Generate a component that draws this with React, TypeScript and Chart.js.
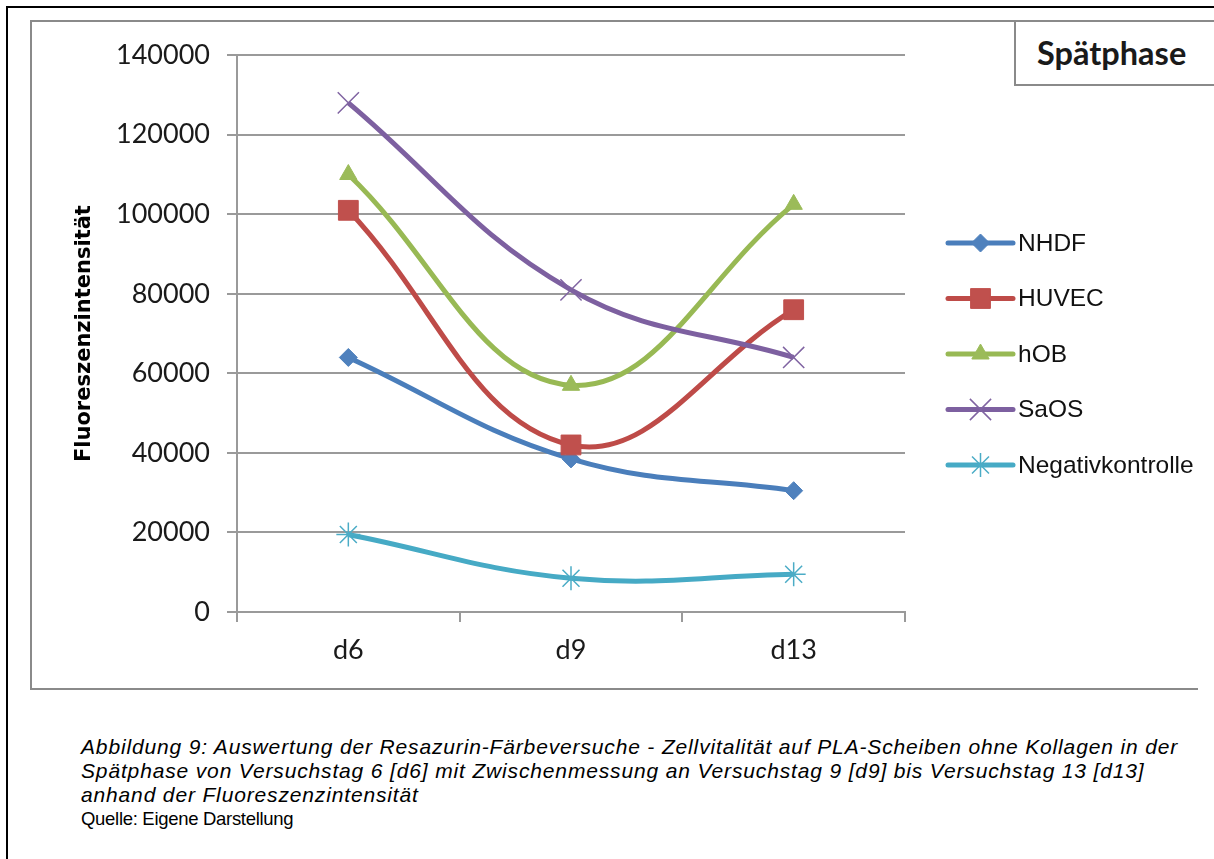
import { useEffect, useRef } from "react";
import { Chart, registerables } from "chart.js";
import { drawPoint } from "chart.js/helpers";

Chart.register(...registerables);

// Measurement days
const days = ["d6", "d9", "d13"];

// Fluorescence intensity per cell line
const nhdf = [64000, 38500, 30500];
const huvec = [101000, 42000, 76000];
const hob = [110000, 57000, 102500];
const saos = [128000, 81000, 64000];
const negativkontrolle = [19500, 8500, 9500];

const seriesNames = ["NHDF", "HUVEC", "hOB", "SaOS", "Negativkontrolle"];
const seriesValues = [nhdf, huvec, hob, saos, negativkontrolle];
const lineColors = ["#4a7ebb", "#be4b48", "#98b954", "#7d60a0", "#46aac5"];
const markerColors = ["#4f81bd", "#c0504d", "#9bbb59", "#8064a2", "#4bacc6"];
const markerStyles = ["rectRot", "rect", "triangle", "crossRot", "star"];
const markerRadii = [9, 14, 10, 15, 12];
const markerBorders = [1, 1, 1, 1.5, 1.5];

// Y axis range
const yMin = 0;
const yMax = 140000;
const yStep = 20000;

const chartTitle = "Spätphase";
const yTitle = "Fluoreszenzintensität";
const captionLines = [
  "Abbildung 9: Auswertung der Resazurin-Färbeversuche - Zellvitalität auf PLA-Scheiben ohne Kollagen in der",
  "Spätphase von Versuchstag 6 [d6] mit Zwischenmessung an Versuchstag 9 [d9] bis Versuchstag 13 [d13]",
  "anhand der Fluoreszenzintensität",
];
const sourceLine = "Quelle: Eigene Darstellung";

const GRID = "#9a9a9a";
const CANVAS_W = 1166;
const CANVAS_H = 666;

// Legend drawn on the right: a short line with the series marker, then the name
const lineLegend = {
  id: "lineLegend",
  afterDraw(chart: any) {
    const ctx = chart.ctx as CanvasRenderingContext2D;
    const x0 = 916;
    const x1 = 981;
    const y0 = 221;
    const gap = 55.5;
    chart.data.datasets.forEach((ds: any, i: number) => {
      const y = y0 + i * gap;
      ctx.save();
      ctx.strokeStyle = ds.borderColor;
      ctx.lineWidth = 5;
      ctx.lineCap = "round";
      ctx.beginPath();
      ctx.moveTo(x0, y);
      ctx.lineTo(x1, y);
      ctx.stroke();
      ctx.restore();
      ctx.save();
      ctx.fillStyle = ds.pointBackgroundColor;
      ctx.strokeStyle = ds.pointBorderColor;
      ctx.lineWidth = ds.pointBorderWidth;
      drawPoint(
        ctx,
        { pointStyle: ds.pointStyle, radius: ds.pointRadius, rotation: 0, borderWidth: ds.pointBorderWidth } as any,
        (x0 + x1) / 2,
        y
      );
      ctx.restore();
      ctx.save();
      ctx.fillStyle = "#111";
      ctx.font = "24.5px 'Liberation Sans', Arial, sans-serif";
      ctx.textBaseline = "middle";
      ctx.textAlign = "left";
      ctx.fillText(seriesNames[i], x1 + 5, y + 1);
      ctx.restore();
    });
  },
};

function FluorescenceChart() {
  const canvasRef = useRef<HTMLCanvasElement | null>(null);

  useEffect(() => {
    const canvas = canvasRef.current;
    if (!canvas) return;
    const chart = new Chart(canvas, {
      type: "line",
      data: {
        labels: days,
        datasets: seriesValues.map((values, i) => ({
          label: seriesNames[i],
          data: values,
          borderColor: lineColors[i],
          backgroundColor: markerColors[i],
          borderWidth: 5,
          tension: 0.4,
          fill: false,
          pointStyle: markerStyles[i] as any,
          pointRadius: markerRadii[i],
          pointBackgroundColor: markerColors[i],
          pointBorderColor: markerColors[i],
          pointBorderWidth: markerBorders[i],
          order: seriesNames.length - i,
        })),
      },
      options: {
        responsive: false,
        maintainAspectRatio: false,
        animation: false,
        events: [],
        layout: { padding: { left: 38, right: 293, top: 31, bottom: 0 } },
        plugins: {
          legend: { display: false },
          tooltip: { enabled: false },
        },
        scales: {
          x: {
            type: "category",
            offset: true,
            grid: {
              offset: true,
              drawOnChartArea: false,
              drawTicks: true,
              tickLength: 10,
              color: GRID,
              lineWidth: 2,
            },
            border: { color: GRID, width: 2 },
            ticks: {
              padding: 12,
              color: "#1a1a1a",
              font: { family: "Lato, 'Open Sans', sans-serif", size: 27 },
            },
            afterFit(scale: any) {
              scale.height = 76;
            },
          },
          y: {
            min: yMin,
            max: yMax,
            grid: {
              color: GRID,
              lineWidth: 2,
              tickLength: 10,
            },
            border: { color: GRID, width: 2 },
            ticks: {
              stepSize: yStep,
              padding: 17,
              color: "#1a1a1a",
              font: { family: "Lato, 'Open Sans', sans-serif", size: 27 },
              callback: (v: any) => String(v),
            },
            title: {
              display: true,
              text: yTitle,
              color: "#000",
              padding: { top: 2, bottom: 4 },
              font: { family: "'DejaVu Sans', sans-serif", size: 21, weight: "bold" },
            },
            afterFit(scale: any) {
              scale.width = 205 - 38;
            },
          },
        },
      },
      plugins: [lineLegend],
    });
    return () => chart.destroy();
  }, []);

  return (
    <canvas
      ref={canvasRef}
      width={CANVAS_W}
      height={CANVAS_H}
      style={{ position: "absolute", left: 0, top: 0, width: CANVAS_W, height: CANVAS_H }}
    />
  );
}

export default function App() {
  return (
    <div
      style={{
        position: "absolute",
        left: 0,
        top: 0,
        width: 1214,
        height: 859,
        overflow: "hidden",
        background: "#fff",
      }}
    >
      <div
        style={{
          position: "absolute",
          left: 6,
          top: 6,
          width: 1400,
          height: 1000,
          borderLeft: "2px solid #000",
          borderTop: "2px solid #000",
        }}
      />
      <div
        style={{
          position: "absolute",
          left: 30,
          top: 20,
          width: CANVAS_W,
          height: CANVAS_H,
          borderLeft: "2px solid #8a8a8a",
          borderTop: "2px solid #8a8a8a",
          borderBottom: "2px solid #8a8a8a",
        }}
      >
        <FluorescenceChart />
      </div>
      <div
        style={{
          position: "absolute",
          left: 1014,
          top: 20,
          width: 300,
          height: 62,
          borderLeft: "2px solid #8a8a8a",
          borderTop: "2px solid #8a8a8a",
          borderBottom: "2px solid #8a8a8a",
          background: "#fff",
          boxSizing: "content-box",
        }}
      >
        <div
          style={{
            position: "absolute",
            left: 21,
            top: 0,
            height: 62,
            lineHeight: "62px",
            fontFamily: "Lato, 'Open Sans', sans-serif",
            fontWeight: "bold",
            fontSize: 32.5,
            color: "#1a1a1a",
            whiteSpace: "nowrap",
          }}
        >
          {chartTitle}
        </div>
      </div>
      <div
        style={{
          position: "absolute",
          left: 81,
          top: 735,
          fontFamily: "'Liberation Sans', Arial, sans-serif",
          lineHeight: "24px",
          color: "#000",
          whiteSpace: "nowrap",
        }}
      >
        {captionLines.map((line) => (
          <div key={line} style={{ fontStyle: "italic", fontSize: 21, letterSpacing: "0.85px" }}>
            {line}
          </div>
        ))}
        <div style={{ fontSize: 18.5, letterSpacing: "-0.3px" }}>{sourceLine}</div>
      </div>
    </div>
  );
}
